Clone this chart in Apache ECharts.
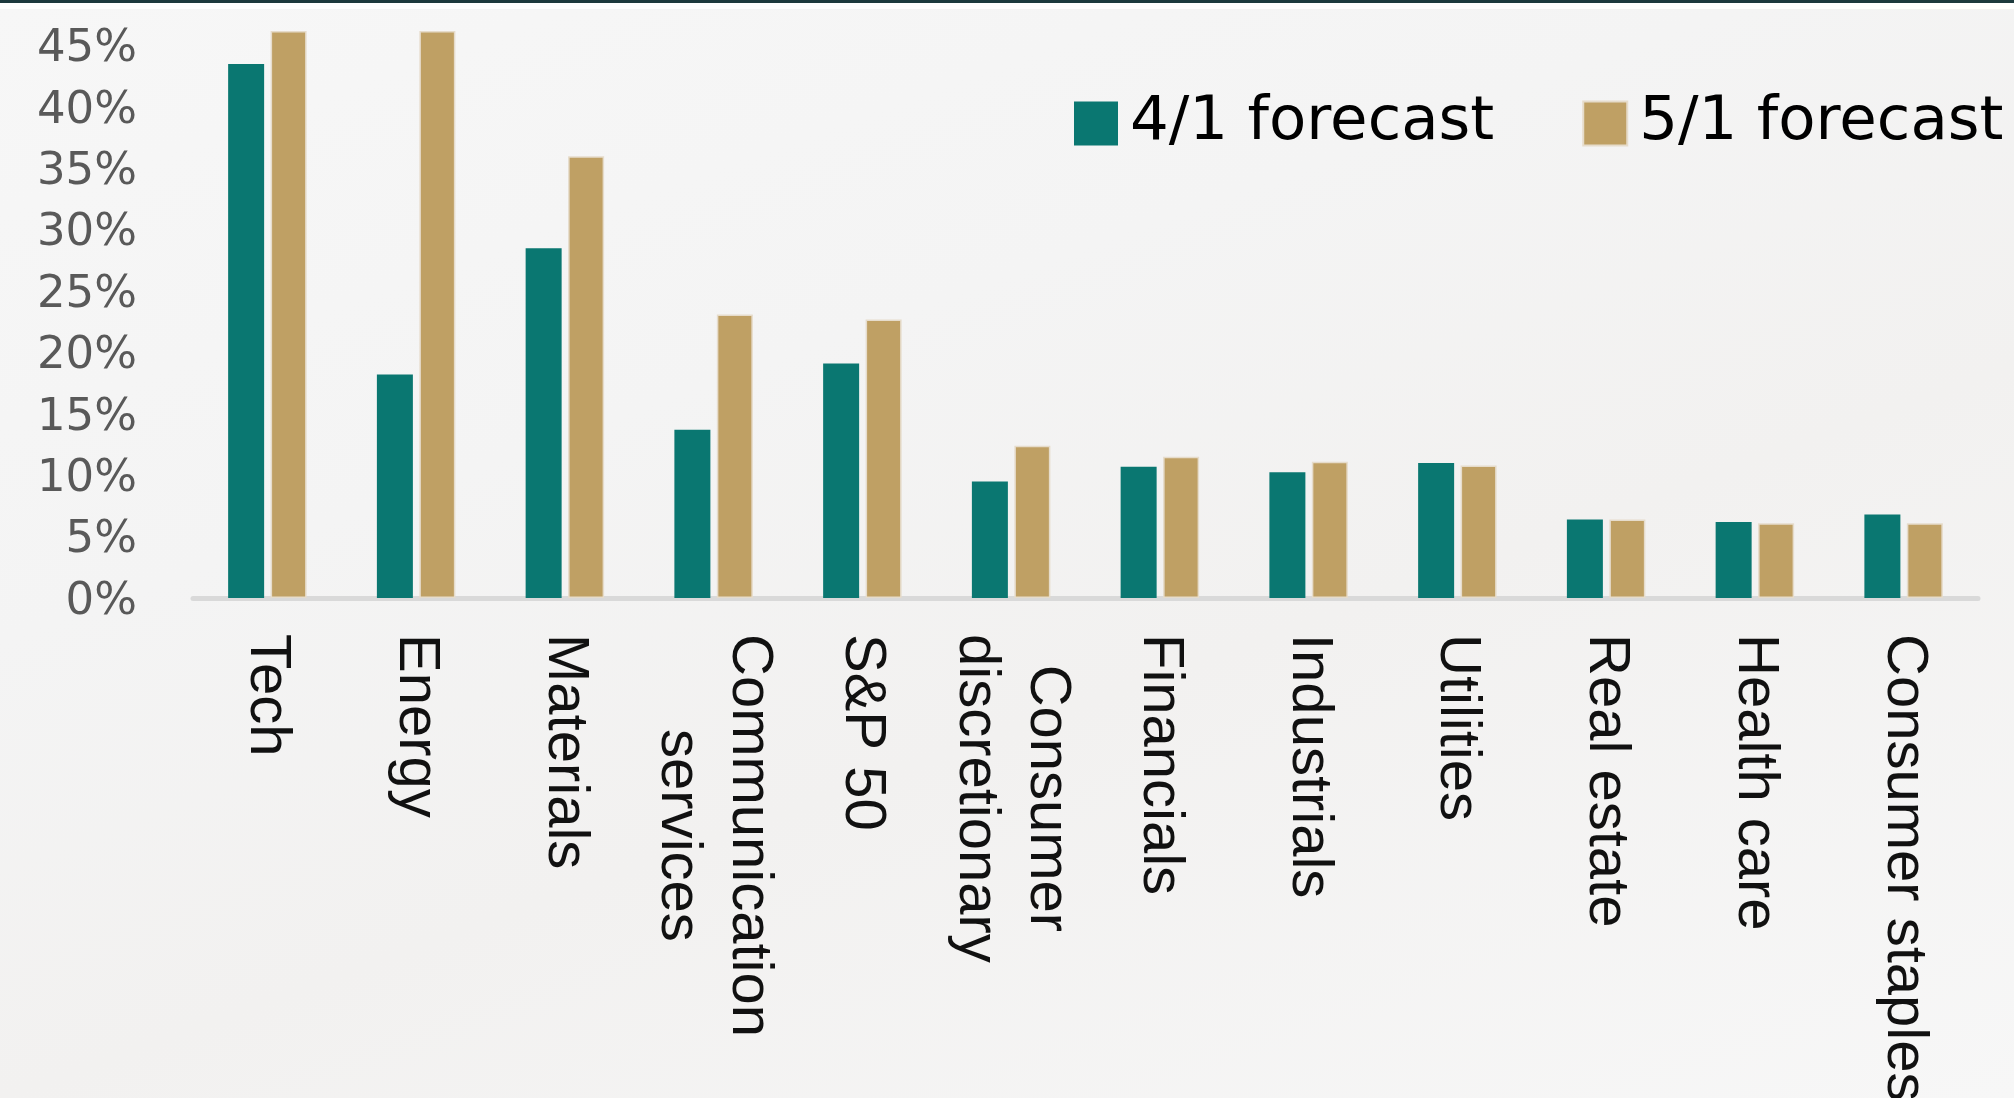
<!DOCTYPE html>
<html>
<head>
<meta charset="utf-8">
<script src="https://cdn.jsdelivr.net/npm/echarts@6/dist/echarts.min.js"></script>
<style>
html,body{margin:0;padding:0;width:2014px;height:1098px;overflow:hidden;}
body{background:linear-gradient(160deg,#f7f7f7 0%,#f4f4f4 35%,#f2f1f0 60%,#f7f7f7 100%);}
#topbar{position:absolute;left:0;top:0;width:2014px;height:3px;background:#1d3a3e;}
#topwhite{position:absolute;left:0;top:3px;width:2014px;height:6px;background:#ffffff;}
#chart{position:absolute;left:0;top:0;width:2014px;height:1098px;}
</style>
</head>
<body>
<div id="topbar"></div>
<div id="topwhite"></div>
<div id="chart"></div>
<script>
const categories = [
  'Tech', 'Energy', 'Materials', 'Communication\nservices', 'S&P 50',
  'Consumer\ndiscretionary', 'Financials', 'Industrials', 'Utilities',
  'Real estate', 'Health care', 'Consumer staples'
];
const forecastApr = [43.5, 18.2, 28.5, 13.7, 19.1, 9.5, 10.7, 10.25, 11.0, 6.4, 6.2, 6.8];
const forecastMay = [46.2, 46.2, 36.0, 23.1, 22.7, 12.4, 11.5, 11.1, 10.8, 6.4, 6.1, 6.1];
const seriesNames = ['4/1 forecast', '5/1 forecast'];
const yTicks = [0, 5, 10, 15, 20, 25, 30, 35, 40, 45];

const chart = echarts.init(document.getElementById('chart'), null, {renderer: 'canvas'});

function catLabel(v) {
  if (v.indexOf('\n') >= 0) {
    return v.split('\n').map(s => '{c|' + s + '}').join('\n');
  }
  return v;
}

chart.setOption({
  backgroundColor: 'transparent',
  animation: false,
  legend: {
    orient: 'horizontal',
    left: 1069,
    top: 88,
    width: 960,
    itemWidth: 44,
    itemHeight: 44,
    itemGap: 88,
    icon: 'rect',
    textStyle: {
      fontFamily: 'DejaVu Sans',
      fontSize: 61,
      color: '#000',
      padding: [0, 0, 0, 7]
    },
    data: seriesNames
  },
  grid: {
    left: 193,
    right: 36,
    top: 15,
    bottom: 500,
    containLabel: false,
    outerBoundsMode: 'none'
  },
  xAxis: {
    type: 'category',
    data: categories,
    axisLine: {show: true, lineStyle: {color: '#d9d9d9', width: 5}},
    axisTick: {show: false},
    axisLabel: {
      interval: 0,
      rotate: -90,
      margin: 36,
      fontFamily: 'Liberation Sans',
      fontSize: 58,
      lineHeight: 71,
      color: '#111',
      formatter: catLabel,
      rich: {
        c: {align: 'center', fontFamily: 'Liberation Sans', fontSize: 58, lineHeight: 71, color: '#111'}
      }
    }
  },
  yAxis: {
    type: 'value',
    min: 0,
    max: 47.5,
    interval: 5,
    axisLine: {show: false},
    axisTick: {show: false},
    splitLine: {show: false},
    axisLabel: {
      showMaxLabel: false,
      margin: 56,
      verticalAlign: 'top',
      lineHeight: 8,
      fontFamily: 'DejaVu Sans',
      fontSize: 45,
      color: '#595959',
      formatter: function (v) { return yTicks.indexOf(v) >= 0 ? v + '%' : ''; }
    }
  },
  series: [
    {
      name: seriesNames[0],
      type: 'bar',
      data: forecastApr,
      barWidth: 36,
      barGap: '18%',
      itemStyle: {color: '#0a7771'}
    },
    {
      name: seriesNames[1],
      type: 'bar',
      data: forecastMay,
      barWidth: 36,
      itemStyle: {color: '#bfa064', borderColor: '#e6dccb', borderWidth: 1.5}
    }
  ]
});
</script>
</body>
</html>
